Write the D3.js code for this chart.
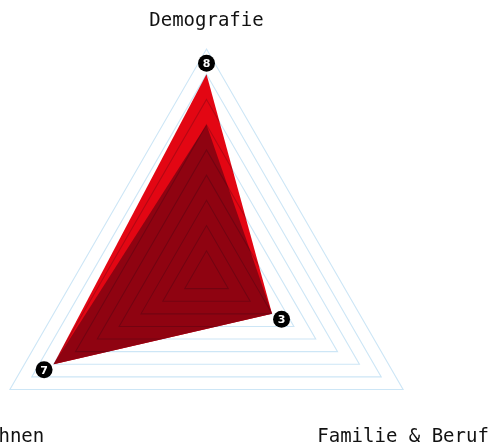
<!DOCTYPE html>
<html>
<head>
<meta charset="utf-8">
<script src="https://cdn.jsdelivr.net/npm/d3@7"></script>
<style>
  html, body { margin: 0; padding: 0; background: #fff; }
  svg { display: block; }
  .grid polygon { mix-blend-mode: multiply; }
</style>
</head>
<body>
<svg id="chart"></svg>
<script>
// axes, clockwise from the top
const axes = ["Demografie", "Familie & Beruf", "Wohnen"];
const seriesOuter = [8, 3, 7];
const seriesInner = [6, 3, 7];
const gridLevels = [1, 2, 3, 4, 5, 6, 7, 8, 9];
const maxValue = 9;

const width = 491, height = 446;
const cx = 206.5, cy = 276, radius = 227;

const svg = d3.select("#chart")
    .attr("width", width)
    .attr("height", height)
    .attr("viewBox", [0, 0, width, height]);

const r = d3.scaleLinear().domain([0, maxValue]).range([0, radius]);
const angle = d3.scalePoint().domain(axes).range([-Math.PI / 2, -Math.PI / 2 + 2 * Math.PI * (axes.length - 1) / axes.length]);

function point(axis, dist) {
    const a = angle(axis);
    return [cx + dist * Math.cos(a), cy + dist * Math.sin(a)];
}

function polyPoints(values) {
    return axes.map((ax, i) => point(ax, r(values[i])).join(",")).join(" ");
}

// data polygons
svg.append("g").attr("class", "areas")
    .selectAll("polygon")
    .data([{ v: seriesOuter, c: "#e30613" }, { v: seriesInner, c: "#8f0311" }])
    .join("polygon")
    .attr("points", d => polyPoints(d.v))
    .attr("fill", d => d.c);

// grid triangles on top, multiplied so they darken the red areas
svg.append("g").attr("class", "grid")
    .selectAll("polygon")
    .data(gridLevels)
    .join("polygon")
    .attr("points", d => polyPoints(axes.map(() => d)))
    .attr("fill", "none")
    .attr("stroke", "#cde6f6")
    .attr("stroke-width", 1.1);

// value markers
const markers = svg.append("g").attr("class", "markers")
    .selectAll("g")
    .data(axes.map((ax, i) => ({ ax: ax, v: seriesOuter[i] })))
    .join("g")
    .attr("transform", d => "translate(" + point(d.ax, r(d.v) + 11) + ")");

markers.append("circle")
    .attr("r", 8.5)
    .attr("fill", "#000");

markers.append("text")
    .attr("text-anchor", "middle")
    .attr("dy", "0.36em")
    .style("font-family", "'DejaVu Sans', sans-serif")
    .style("font-weight", "bold")
    .style("font-size", "11px")
    .attr("fill", "#fff")
    .text(d => d.v);

// axis labels
const labelOffset = { "Demografie": -23, "Familie & Beruf": 52, "Wohnen": 52 };
svg.append("g").attr("class", "labels")
    .selectAll("text")
    .data(axes)
    .join("text")
    .attr("x", d => point(d, radius)[0])
    .attr("y", d => point(d, radius)[1] + labelOffset[d])
    .attr("text-anchor", "middle")
    .style("font-family", "'DejaVu Sans Mono', 'Liberation Mono', monospace")
    .style("font-size", "19px")
    .attr("fill", "#111")
    .text(d => d);
</script>
</body>
</html>
